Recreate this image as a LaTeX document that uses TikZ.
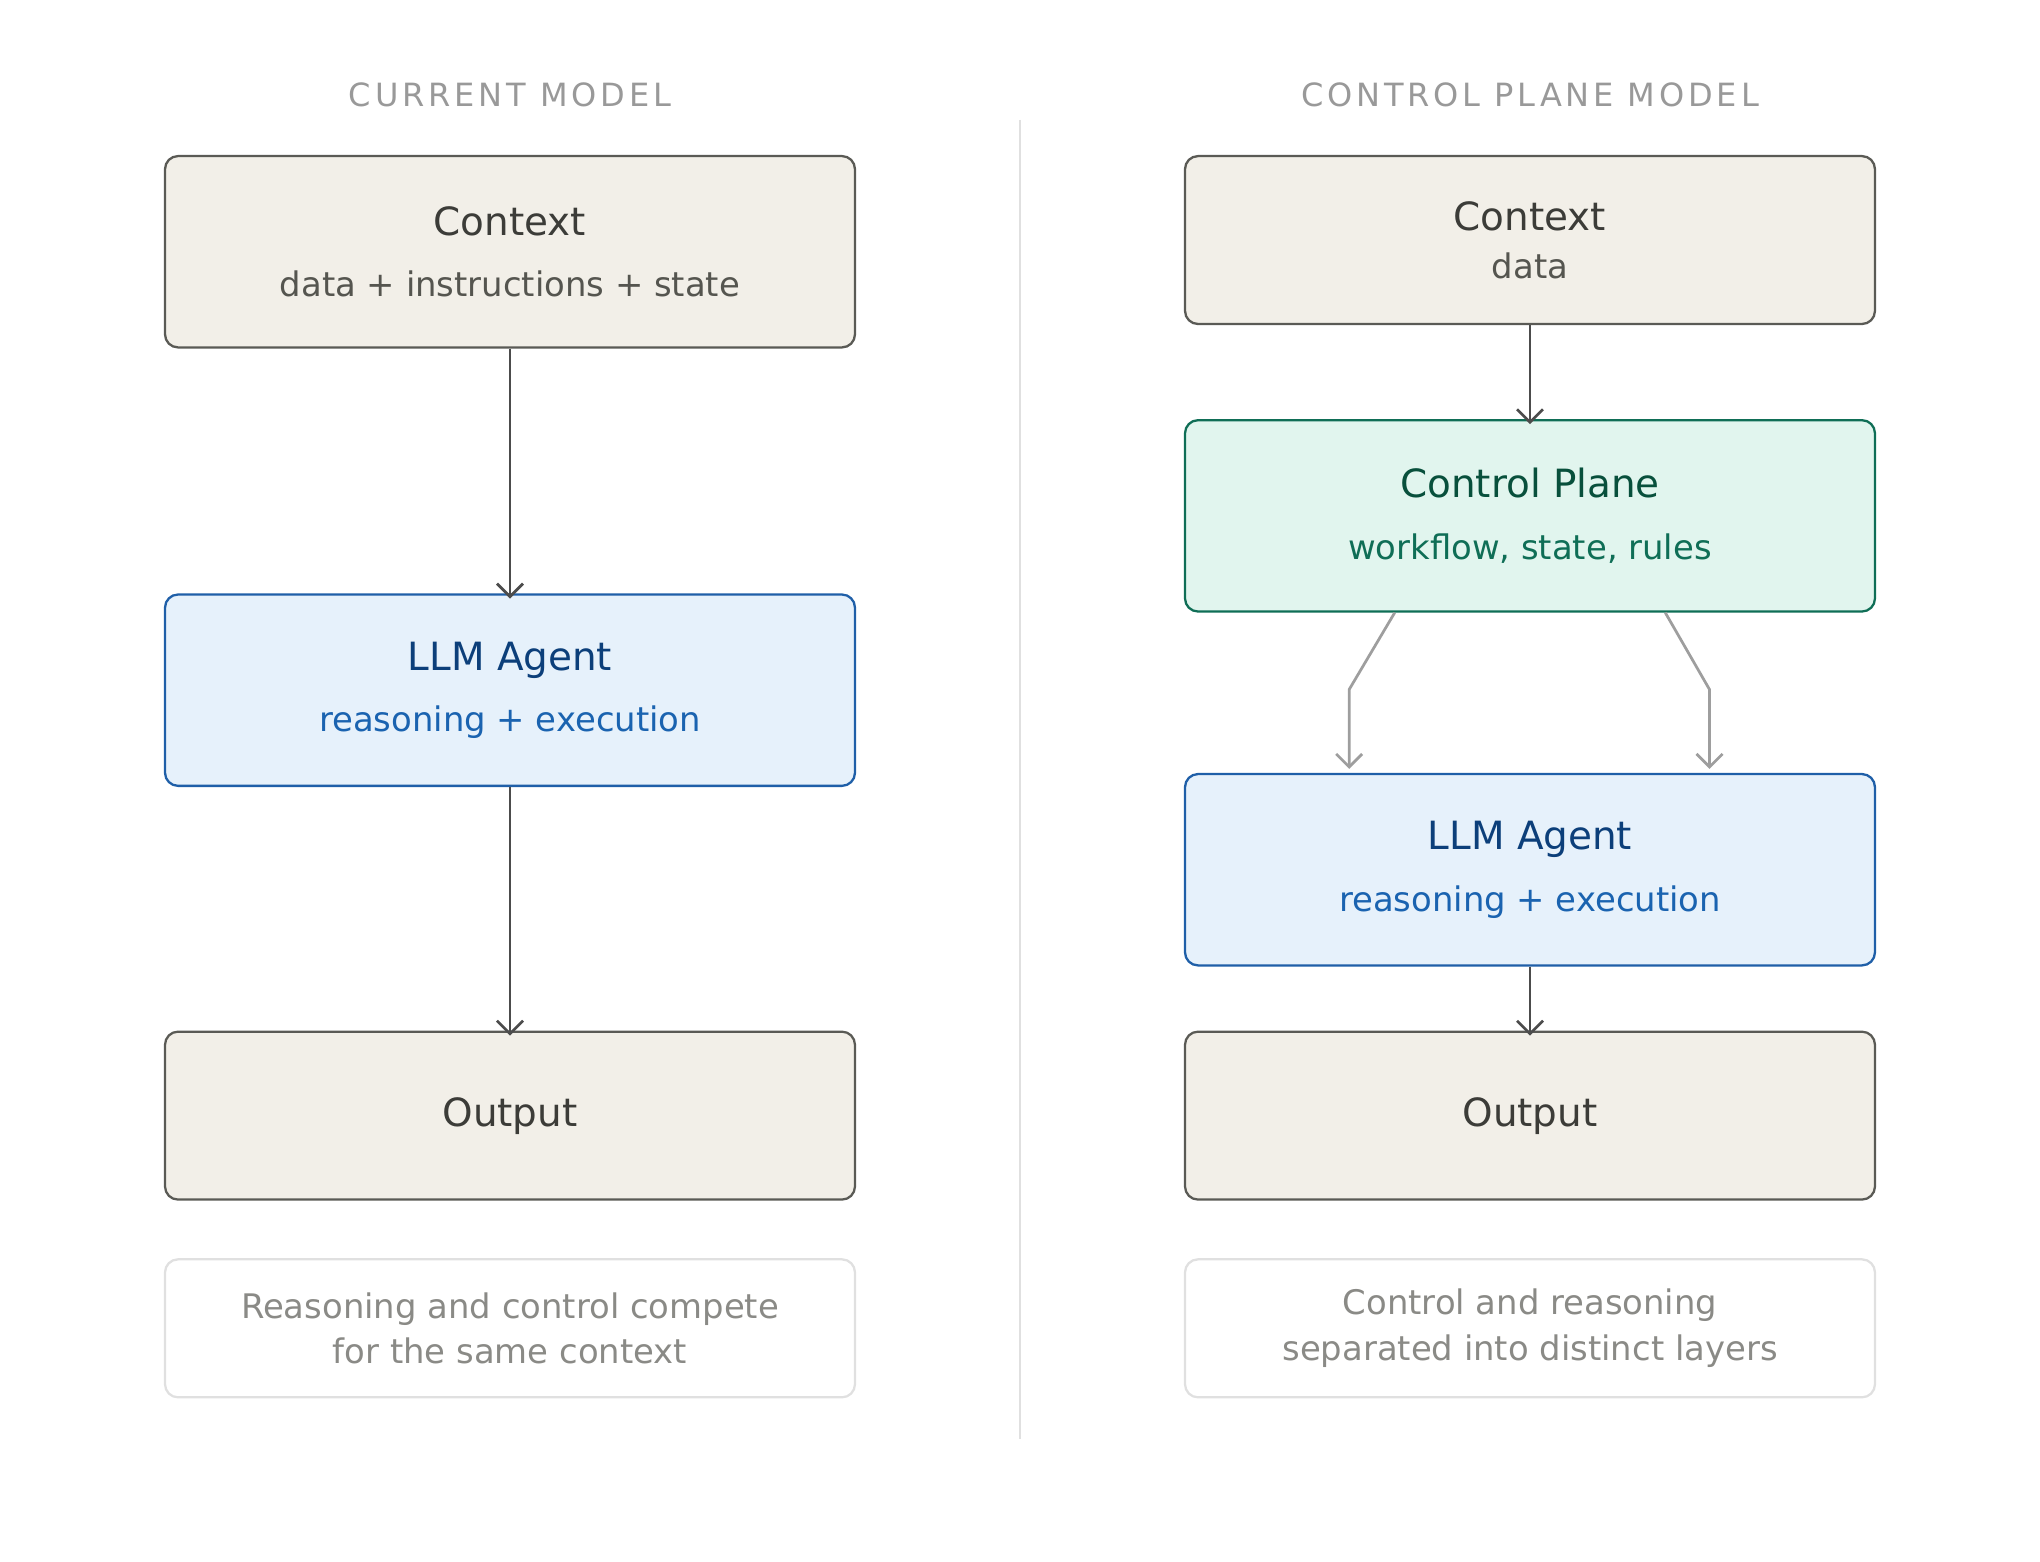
\documentclass[tikz,border=0pt]{standalone}
\usepackage{fontspec}
\setmainfont{DejaVu Sans}
\usetikzlibrary{arrows.meta}
\definecolor{beigefill}{HTML}{F2EFE8}
\definecolor{beigeline}{HTML}{5A5A55}
\definecolor{bluefill}{HTML}{E6F1FB}
\definecolor{blueline}{HTML}{1F5FA8}
\definecolor{bluetitle}{HTML}{0C3F7A}
\definecolor{bluesub}{HTML}{1A63B0}
\definecolor{greenfill}{HTML}{E1F5EE}
\definecolor{greenline}{HTML}{0F6E56}
\definecolor{greentitle}{HTML}{08503C}
\definecolor{darktext}{HTML}{3C3C38}
\definecolor{subtext}{HTML}{55554F}
\definecolor{notetext}{HTML}{8A8A86}

\tikzset{
  box/.style={rectangle,rounded corners=0.1cm,minimum width=5.3cm,align=center,line width=0.5pt},
  beige/.style={box,fill=beigefill,draw=beigeline,text=darktext},
  blue/.style={box,fill=bluefill,draw=blueline,text=bluetitle},
  green/.style={box,fill=greenfill,draw=greenline,text=greentitle},
  note/.style={box,draw=black!12,minimum height=1.06cm,text=notetext,font=\fontsize{7.4}{10}\selectfont},
  head/.style={text=black!40,font=\fontsize{7}{8}\selectfont\addfontfeature{LetterSpace=12}},
  arr/.style={-{Straight Barb[length=1mm,width=2mm]},line width=0.6pt,draw=black!70},
  grarr/.style={arr,draw=black!38}
}
\newcommand{\ttl}{\fontsize{8.5}{13.3}\selectfont}
\newcommand{\sub}{\fontsize{7.4}{13.3}\selectfont}

\begin{document}
\begin{tikzpicture}[x=0.01cm,y=-0.01cm]
\useasboundingbox (0,0) rectangle (1568,1200);
\draw[black!12,line width=0.5pt] (784,92) -- (784,1106);
% left column
\node[head] (hl) at (392,73) {CURRENT MODEL};
\node[beige,minimum height=1.47cm] (ctxl) at (392,193.5)
  {{\ttl Context}\\[0.05cm]{\sub\color{subtext}data + instructions + state}};
\node[blue,minimum height=1.47cm] (llml) at (392,530.5)
  {{\ttl LLM Agent}\\[0.05cm]{\sub\color{bluesub}reasoning + execution}};
\node[beige,minimum height=1.29cm,font=\ttl] (outl) at (392,857.5) {Output};
\node[note] (notel) at (392,1021) {Reasoning and control compete\\for the same context};
\draw[arr] (ctxl) -- ([yshift=-0.04cm]llml.north);
\draw[arr] (llml) -- ([yshift=-0.04cm]outl.north);
% right column
\node[head] (hr) at (1176,73) {CONTROL PLANE MODEL};
\node[beige,minimum height=1.29cm] (ctxr) at (1176,184.5)
  {{\ttl Context}\\[-0.05cm]{\sub\color{subtext}data}};
\node[green,minimum height=1.47cm] (cp) at (1176,396.5)
  {{\ttl Control Plane}\\[0.05cm]{\sub\color{greenline}workflow, state, rules}};
\node[blue,minimum height=1.47cm] (llmr) at (1176,668.5)
  {{\ttl LLM Agent}\\[0.05cm]{\sub\color{bluesub}reasoning + execution}};
\node[beige,minimum height=1.29cm,font=\ttl] (outr) at (1176,857.5) {Output};
\node[note] (noter) at (1176,1021) {Control and reasoning\\separated into distinct layers};
\coordinate (ka) at (1037,530);
\coordinate (kb) at (1314,530);
\coordinate (ea) at (1037,591);
\coordinate (eb) at (1314,591);
\draw[arr] (ctxr) -- ([yshift=-0.04cm]cp.north);
\draw[grarr] (cp.south -| 1072,0) -- (ka) -- (ea);
\draw[grarr] (cp.south -| 1280,0) -- (kb) -- (eb);
\draw[arr] (llmr) -- ([yshift=-0.04cm]outr.north);
\end{tikzpicture}
\end{document}
